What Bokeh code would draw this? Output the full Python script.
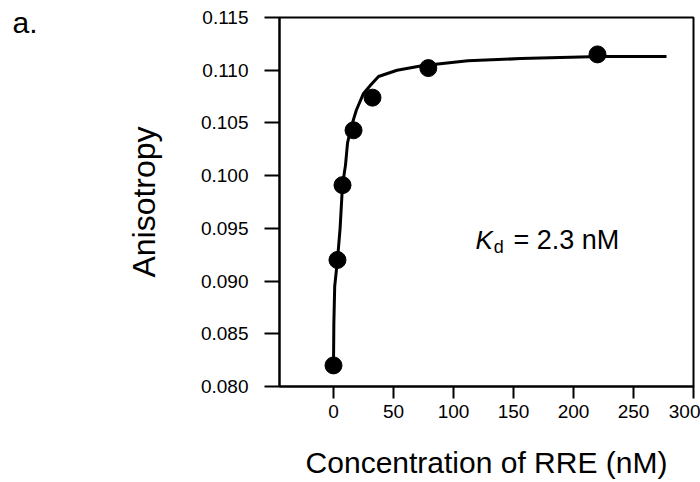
from bokeh.plotting import figure
from bokeh.models import Range1d, FixedTicker, Label
from bokeh.embed import file_html
from bokeh.resources import INLINE

# measured points
conc = [0, 3.3, 7.5, 16.7, 32.5, 79, 220]
aniso = [0.0820, 0.0920, 0.0991, 0.1043, 0.1074, 0.1102, 0.1115]

# fitted curve
fit_x = [0, 0.3, 1.0, 3.3, 5.5, 7.5, 10, 11.7, 15, 19, 25, 31, 37.5, 53, 72.5, 87, 112, 156, 222, 277.5]
fit_y = [0.0820, 0.0860, 0.0895, 0.0920, 0.0950, 0.0991, 0.1010, 0.1031, 0.1047, 0.1062,
         0.1078, 0.1086, 0.1094, 0.1100, 0.1104, 0.1106, 0.1109, 0.1111, 0.1113, 0.1113]

x_ticks = [0, 50, 100, 150, 200, 250, 300]
y_ticks = [0.080, 0.085, 0.090, 0.095, 0.100, 0.105, 0.110, 0.115]
y_tick_labels = ["0.080", "0.085", "0.090", "0.095", "0.100", "0.105", "0.110", "0.115"]

FONT = "Liberation Sans"

p = figure(width=700, height=482, output_backend="svg", toolbar_location=None,
           x_range=Range1d(-45, 300), y_range=Range1d(0.080, 0.115),
           min_border_left=279, min_border_right=7, min_border_top=17, min_border_bottom=96)
p.background_fill_color = "white"
p.border_fill_color = "white"
p.outline_line_color = "black"
p.outline_line_width = 2
p.xgrid.visible = False
p.ygrid.visible = False

# panel label "a." drawn as the plot title, pulled to the top-left corner
p.title.text = "a."
p.title.align = "left"
p.title.offset = -267
p.title.standoff = -42
p.title.text_font = FONT
p.title.text_font_size = "30px"
p.title.text_font_style = "normal"
p.title.text_color = "black"

for ax in (p.xaxis[0], p.yaxis[0]):
    ax.axis_line_width = 2
    ax.axis_line_color = "black"
    ax.major_tick_line_width = 2
    ax.major_tick_line_color = "black"
    ax.minor_tick_line_color = None
    ax.major_tick_in = 0
    ax.major_label_text_font = FONT
    ax.major_label_text_font_size = "19px"
    ax.major_label_text_color = "black"
    ax.axis_label_text_font = FONT
    ax.axis_label_text_font_style = "normal"
    ax.axis_label_text_color = "black"

p.xaxis[0].ticker = FixedTicker(ticks=x_ticks)
p.xaxis[0].major_tick_out = 12
p.xaxis[0].major_label_standoff = 6
p.xaxis[0].axis_label = "Concentration of RRE (nM)"
p.xaxis[0].axis_label_text_font_size = "30px"
p.xaxis[0].axis_label_standoff = 25

p.yaxis[0].ticker = FixedTicker(ticks=y_ticks)
p.yaxis[0].major_label_overrides = {t: s for t, s in zip(y_ticks, y_tick_labels)}
p.yaxis[0].major_tick_out = 15
p.yaxis[0].major_label_standoff = 16
p.yaxis[0].axis_label = "Anisotropy"
p.yaxis[0].axis_label_text_font_size = "32px"
p.yaxis[0].axis_label_standoff = 36

p.line(fit_x, fit_y, line_color="black", line_width=3)
p.scatter(conc, aniso, size=17, marker="circle", fill_color="black", line_color="black")

p.add_layout(Label(x=118.3, y=0.09385, text="K", text_font=FONT, text_font_style="italic",
                   text_font_size="26px", text_color="black", text_baseline="alphabetic"))
p.add_layout(Label(x=133.5, y=0.0932, text="d", text_font=FONT,
                   text_font_size="18px", text_color="black", text_baseline="alphabetic"))
p.add_layout(Label(x=150, y=0.09385, text="= 2.3 nM", text_font=FONT,
                   text_font_size="27px", text_color="black", text_baseline="alphabetic"))

open("out.html", "w").write(file_html(p, INLINE))
